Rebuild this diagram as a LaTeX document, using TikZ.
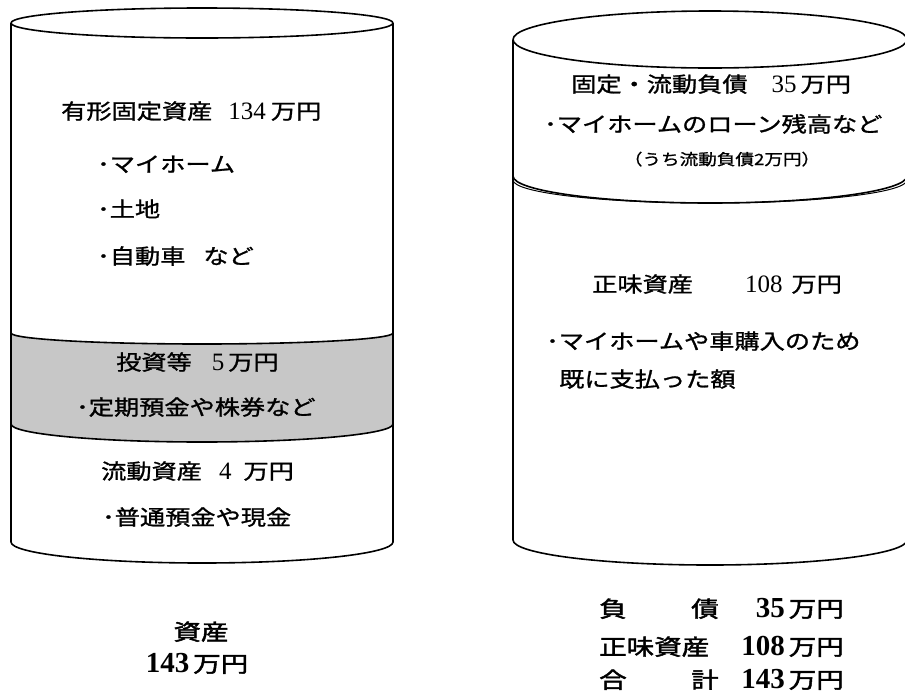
\documentclass[tikz,border=0pt]{standalone}
\usepackage{fontspec}
\setmainfont{Liberation Serif}
\newfontfamily\jp[FakeStretch=1.2,FakeBold=1.2]{Noto Sans CJK JP}
\newfontfamily\jpb[FakeStretch=1.25,FakeBold=2]{Noto Sans CJK JP}
\newcommand\dg[1]{{\rmfamily\fontsize{25}{28}\selectfont #1}}
\newcommand\dgb[1]{{\rmfamily\bfseries\fontsize{29}{32}\selectfont #1}}
\tikzset{
  cyl/.style={line width=1.6pt, draw=black, line join=round},
  txt/.style={anchor=base west, inner sep=0pt, font=\jp\fontsize{21}{24}\selectfont},
  small/.style={anchor=base, inner sep=0pt, font=\jp\fontsize{15.5}{18}\selectfont},
  btxt/.style={anchor=base west, inner sep=0pt, font=\jpb\fontsize{22}{26}\selectfont},
  bamt/.style={anchor=base east, inner sep=0pt, font=\jpb\fontsize{22}{26}\selectfont},
  bctr/.style={anchor=base, inner sep=0pt, font=\jpb\fontsize{22}{26}\selectfont},
}
\begin{document}
\begin{tikzpicture}[x=1pt,y=1pt]
\useasboundingbox (0,0) rectangle (905,-694);
% ---------- left cylinder ----------
\fill[white] (11,-23) -- (11,-542) arc[start angle=180,end angle=360,x radius=191pt,y radius=21pt] -- (393,-23) -- cycle;
\fill[black!22] (11,-333) arc[start angle=180,end angle=360,x radius=191pt,y radius=11pt]
  -- (393,-424) arc[start angle=360,end angle=180,x radius=191pt,y radius=18pt] -- cycle;
\draw[cyl] (202,-23) ellipse[x radius=191pt,y radius=15pt];
\draw[cyl] (11,-23) -- (11,-542) arc[start angle=180,end angle=360,x radius=191pt,y radius=21pt] -- (393,-23);
\draw[cyl] (11,-333) arc[start angle=180,end angle=360,x radius=191pt,y radius=11pt];
\draw[cyl] (11,-424) arc[start angle=180,end angle=360,x radius=191pt,y radius=18pt];
% ---------- right cylinder ----------
\begin{scope}
\clip (0,0) rectangle (905,-694);
\draw[cyl] (710,-39.5) ellipse[x radius=197pt,y radius=28.5pt];
\draw[cyl] (513,-39.5) -- (513,-540) arc[start angle=180,end angle=360,x radius=197pt,y radius=25pt] -- (907,-39.5);
\draw[cyl] (513,-176) arc[start angle=180,end angle=360,x radius=197pt,y radius=27pt];
\draw[line width=1pt] (513,-180) arc[start angle=180,end angle=360,x radius=197pt,y radius=23pt];
\end{scope}
% ---------- left texts ----------
\node[txt] (l1) at (61,-119) {有形固定資産\hspace{16pt}\dg{134}\hspace{5pt}万円};
\node[txt] (l2) at (97,-172) {･マイホーム};
\node[txt] (l3) at (97,-217) {･土地};
\node[txt] (l4) at (97,-264) {･自動車\hspace{18pt}など};
\node[txt] (l5) at (116,-370) {投資等\hspace{20pt}\dg{5}\hspace{4pt}万円};
\node[txt] (l6) at (76,-415) {･定期預金や株券など};
\node[txt] (l7) at (101,-479) {流動資産\hspace{17pt}\dg{4}\hspace{12pt}万円};
\node[txt] (l8) at (102,-525) {･普通預金や現金};
\node[bctr] (la) at (201,-640) {資産};
\node[bctr] (lb) at (197,-672) {\dgb{143}\hspace{4pt}万円};
% ---------- right texts ----------
\node[txt] (r1) at (571,-92) {固定・流動負債\hspace{24pt}\dg{35}\hspace{4pt}万円};
\node[txt] (r2) at (544,-132) {･マイホームのローン残高など};
\node[small] (r3) at (722,-165) {（うち流動負債2万円）};
\node[txt] (r4) at (592,-292) {正味資産\hspace{52pt}\dg{108}\hspace{9pt}万円};
\node[txt] (r5) at (546,-349) {･マイホームや車購入のため};
\node[txt] (r6) at (559,-387) {既に支払った額};
% ---------- summary ----------
\node[btxt] (s1a) at (599,-617) {負};
\node[btxt] (s1b) at (691,-617) {債};
\node[bamt] (s1c) at (844,-617) {\dgb{35}\hspace{4pt}万円};
\node[btxt] (s2a) at (599,-655) {正味資産};
\node[bamt] (s2c) at (844,-655) {\dgb{108}\hspace{4pt}万円};
\node[btxt] (s3a) at (599,-688) {合};
\node[btxt] (s3b) at (691,-688) {計};
\node[bamt] (s3c) at (844,-688) {\dgb{143}\hspace{4pt}万円};
\end{tikzpicture}
\end{document}
